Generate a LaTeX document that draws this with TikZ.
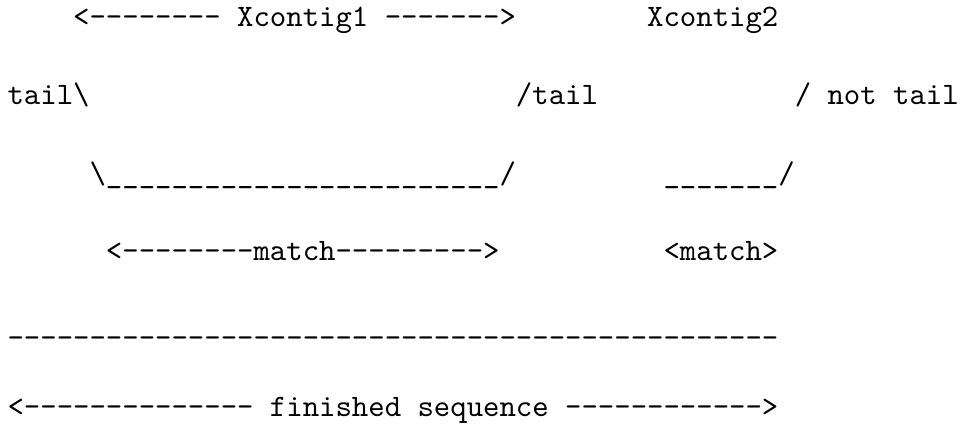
\documentclass[tikz,border=0pt]{standalone}
\usetikzlibrary{positioning}
% one monospace character cell is 0.525em = 5.25pt at 10pt
\tikzset{
  ascii/.style={inner sep=0pt, outer sep=0pt, anchor=base west, font=\ttfamily},
}
\begin{document}
\begin{tikzpicture}
\useasboundingbox (0pt,0pt) rectangle (308.6pt,-136pt);
\begin{scope}[xshift=2.43pt, x=5.25pt, y=-1pt]
  % row 0: contig labels
  \node[ascii] (xc1)   at (4, 8.64)  {<-------- Xcontig1 ------->};
  \node[ascii] (xc2)   at (39, 8.64) {Xcontig2};
  % row 1: tail markers
  \node[ascii] (tl1)   at (0, 33.6)  {tail\textbackslash};
  \node[ascii] (tl2)   at (31, 33.6) {/tail};
  \node[ascii] (tl3)   at (48, 33.6) {/ not tail};
  % row 2: aligned stretches
  \node[ascii] (aln1)  at (5, 58.6)  {\textbackslash\_\_\_\_\_\_\_\_\_\_\_\_\_\_\_\_\_\_\_\_\_\_\_\_/};
  \node[ascii] (aln2)  at (40, 58.6) {\_\_\_\_\_\_\_/};
  % row 3: match extents
  \node[ascii] (m1)    at (6, 83.55) {<--------match--------->};
  \node[ascii] (m2)    at (40, 83.55) {<match>};
  % row 4: the joined sequence
  \node[ascii] (seq)   at (0, 111.4) {-----------------------------------------------};
  % row 5: its label
  \node[ascii] (fin)   at (0, 133.48) {<-------------- finished sequence ------------>};
\end{scope}
\end{tikzpicture}
\end{document}
